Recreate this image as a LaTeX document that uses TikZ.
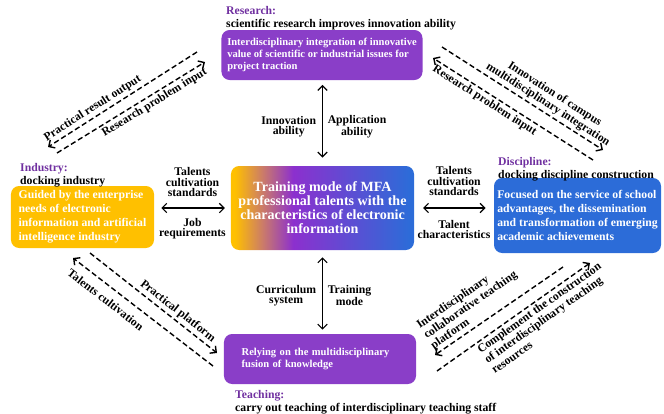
\documentclass[tikz,border=0pt]{standalone}
\usepackage{fontspec}
\setmainfont{Liberation Serif}
\usetikzlibrary{shapes,arrows,arrows.meta,positioning}
\definecolor{BoxPurple}{RGB}{138, 62, 200}
\definecolor{CapPurple}{RGB}{112, 48, 160}
\definecolor{BoxOrange}{RGB}{255, 192, 0}
\definecolor{BoxBlue}{RGB}{44, 108, 216}
\definecolor{MidPurple}{RGB}{140, 48, 206}
\definecolor{MidBrown}{RGB}{200, 120, 110}
\pgfdeclarehorizontalshading{coreshade}{100bp}{color(0bp)=(BoxOrange); color(26bp)=(BoxOrange); color(34bp)=(MidBrown); color(42bp)=(MidPurple); color(74bp)=(BoxBlue); color(100bp)=(BoxBlue)}

\begin{document}
\begin{tikzpicture}[x=0.03cm, y=-0.03cm,
    >={Straight Barb[length=4pt,width=8pt]},
    box/.style={rounded corners=7pt, text=white, inner sep=0pt},
    heading/.style={font=\bfseries\fontsize{10}{11}\selectfont, align=left, inner sep=0pt, anchor=north west},
    lbl/.style={font=\bfseries\fontsize{10}{9}\selectfont, align=center, inner sep=0pt},
    diag/.style={font=\bfseries\fontsize{10}{10.5}\selectfont, inner sep=2pt, sloped},
    biarrow/.style={<->, line width=1pt},
    flow/.style={->, line width=1.2pt, dash pattern=on 4.5pt off 2.5pt}]
    \useasboundingbox (0,0) rectangle (664,413);

    % boxes
    \node[box, fill=BoxPurple, minimum width=6.03cm, minimum height=1.5cm, align=left,
          font=\bfseries\fontsize{9}{10.5}\selectfont] (research) at (322,55)
        {Interdisciplinary integration of innovative\\value of scientific or industrial issues for\\project traction};
    \node[box, shading=coreshade, minimum width=5.49cm, minimum height=2.52cm, align=center,
          font=\bfseries\fontsize{12}{12}\selectfont] (core) at (322.5,208)
        {Training mode of MFA\\professional talents with the\\characteristics of electronic\\information};
    \node[box, fill=BoxOrange, minimum width=4.29cm, minimum height=1.86cm, align=left,
          font=\bfseries\fontsize{10}{12}\selectfont] (industry) at (82.5,217)
        {Guided by the enterprise\\needs of electronic\\information and artificial\\intelligence industry};
    \node[box, fill=BoxBlue, minimum width=5.01cm, minimum height=2.25cm, align=left,
          font=\bfseries\fontsize{10}{12}\selectfont] (discipline) at (577.5,215.5)
        {Focused on the service of school\\advantages, the dissemination\\and transformation of emerging\\academic achievements};
    \node[box, fill=BoxPurple, minimum width=5.76cm, minimum height=1.5cm, text width=4.7cm, align=left,
          font=\bfseries\fontsize{9}{10.5}\selectfont] (teaching) at (320,359)
        {Relying on the multidisciplinary\\fusion of knowledge};

    % captions
    \node[heading] (researchcap) at (226,6) {\textcolor{CapPurple}{Research:}\\scientific research improves innovation ability};
    \node[heading] (industrycap) at (20,163) {\textcolor{CapPurple}{Industry:}\\docking industry};
    \node[heading] (disciplinecap) at (498,157) {\textcolor{CapPurple}{Discipline:}\\docking discipline construction};
    \node[heading] (teachingcap) at (235,390) {\textcolor{CapPurple}{Teaching:}\\carry out teaching of interdisciplinary teaching staff};

    % solid arrows
    \draw[biarrow, shorten <=4pt, shorten >=7pt] (core.north |- research.south) -- (core.north)
        node[lbl, midway, left=5pt, yshift=-3pt] {Innovation\\ability}
        node[lbl, midway, right=4pt, yshift=-3pt] {Application\\ability};
    \draw[biarrow, shorten <=6pt, shorten >=3.5pt] (core.south) -- (core.south |- teaching.north)
        node[lbl, midway, left=5pt, yshift=-3pt] {Curriculum\\system}
        node[lbl, midway, right=4pt, yshift=-3pt] {Training\\mode};
    \draw[biarrow, shorten <=6pt, shorten >=5pt] (industry.east |- core.west) -- (core.west)
        node[lbl, midway, above=9pt] {Talents\\cultivation\\standards}
        node[lbl, midway, below=8pt] {Job\\requirements};
    \draw[biarrow, shorten <=7.5pt, shorten >=7pt] (core.east) -- (core.east -| discipline.west)
        node[lbl, midway, above=10pt] {Talents\\cultivation\\standards}
        node[lbl, midway, below=10pt] {Talent\\characteristics};

    % dashed links
    \coordinate (rsIa) at (197,52);  \coordinate (rsIb) at (48,147);
    \coordinate (inRa) at (57,153);  \coordinate (inRb) at (205,62);
    \coordinate (rsDa) at (442,47);  \coordinate (rsDb) at (603,150);
    \coordinate (dsRa) at (593,160); \coordinate (dsRb) at (433,58);
    \coordinate (inTa) at (90,253);  \coordinate (inTb) at (217,353);
    \coordinate (tcIa) at (213,366); \coordinate (tcIb) at (73,258);
    \coordinate (dsTa) at (563,267); \coordinate (dsTb) at (435,355);
    \coordinate (tcDa) at (437,371); \coordinate (tcDb) at (590,263);

    \draw[flow] (rsIa) -- (rsIb) node[diag, pos=0.67, above] {Practical result output};
    \draw[flow] (inRa) -- (inRb) node[diag, pos=0.63, below] {Research problem input};
    \draw[flow] (rsDa) -- (rsDb) node[diag, pos=0.63, above, align=center] {Innovation of campus\\multidisciplinary integration};
    \draw[flow] (dsRa) -- (dsRb) node[diag, pos=0.65, below] {Research problem input};
    \draw[flow] (inTa) -- (inTb) node[diag, pos=0.65, above] {Practical platform};
    \draw[flow] (tcIa) -- (tcIb) node[diag, pos=0.71, below=5pt] {Talents cultivation};
    \draw[flow] (dsTa) -- (dsTb) node[diag, pos=0.63, above, align=left] {Interdisciplinary\\collaborative teaching\\platform};
    \draw[flow] (tcDa) -- (tcDb) node[diag, pos=0.64, below, align=left] {Complement the construction\\of interdisciplinary teaching\\resources};
\end{tikzpicture}
\end{document}
